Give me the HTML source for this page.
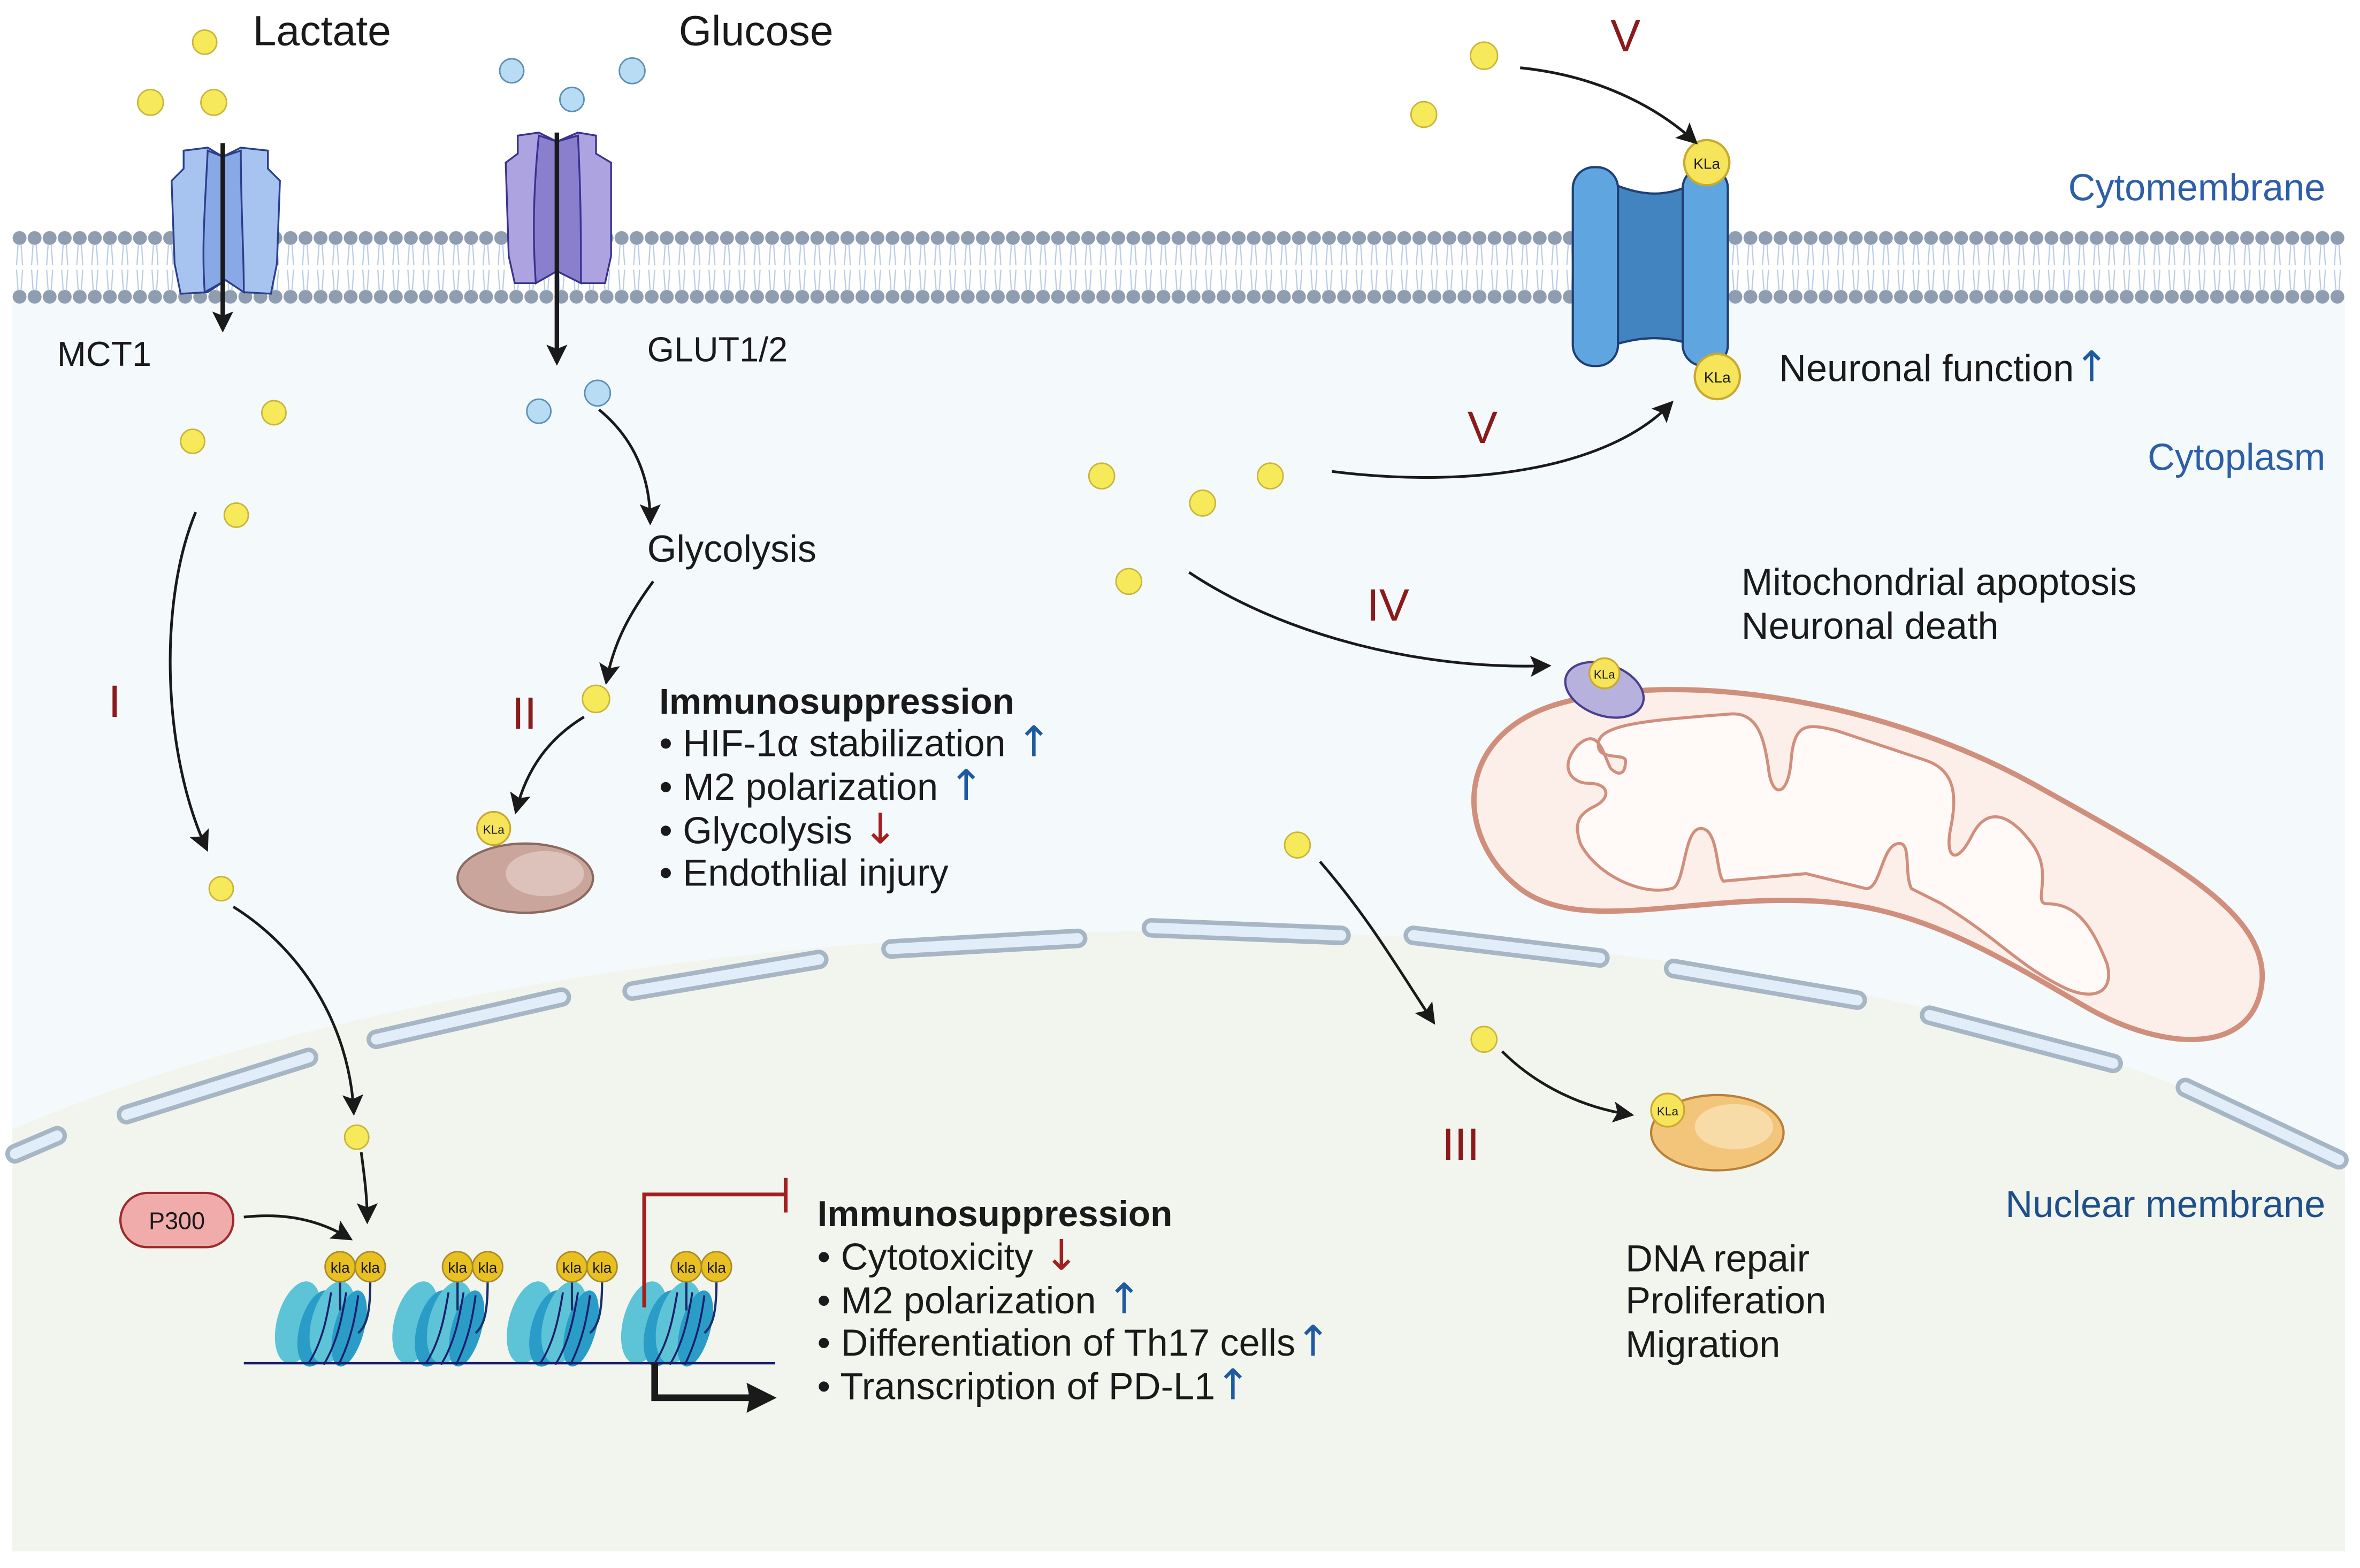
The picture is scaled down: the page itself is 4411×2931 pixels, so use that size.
<!DOCTYPE html>
<html><head><meta charset="utf-8"><style>
html,body{margin:0;padding:0;background:#fff}
svg{display:block}
text{font-family:"Liberation Sans","DejaVu Sans",sans-serif;fill:#1a1a1a}
.ar{font-family:"DejaVu Sans",sans-serif;font-size:28px}
</style></head><body>
<svg width="4411" height="2931" viewBox="0 0 1568 1041" preserveAspectRatio="none" xmlns="http://www.w3.org/2000/svg">
<defs>
<pattern id="mem" x="8" y="150" width="10" height="54" patternUnits="userSpaceOnUse">
<ellipse cx="5" cy="8" rx="4.6" ry="4.6" fill="#8e9db0"/>
<ellipse cx="5" cy="47" rx="4.6" ry="4.6" fill="#8e9db0"/>
<path d="M4,12 L3,26 M6,12 L7,26 M3,29 L4,43 M7,29 L6,43" stroke="#b9cbe6" stroke-width="0.8" fill="none"/>
</pattern>
<marker id="ah" viewBox="0 0 10 10" refX="8" refY="5" markerWidth="14" markerHeight="14" markerUnits="userSpaceOnUse" orient="auto"><path d="M0,0 L10,5 L0,10 L2,5 z" fill="#1a1a1a"/></marker>
<marker id="ahb" viewBox="0 0 10 10" refX="8" refY="5" markerWidth="20" markerHeight="20" markerUnits="userSpaceOnUse" orient="auto"><path d="M0,0 L10,5 L0,10 L1,5 z" fill="#1a1a1a"/></marker>
</defs>

<rect x="8" y="200" width="1550" height="830" fill="#f4f9fc"/>
<path d="M8,750 C400,580 1200,560 1558,775 L1558,1030 L8,1030 Z" fill="#f2f5ee"/>
<rect x="8" y="150" width="1550" height="54" fill="url(#mem)"/>

<g stroke-linecap="round" fill="none">
<g stroke="#a7b6c4" stroke-width="13">
<path d="M10,766 L38,754"/><path d="M84,740 L205,702"/><path d="M250,690 L373,662"/><path d="M420,658 L544,637"/><path d="M592,630 L716,623"/><path d="M765,616 L891,621"/><path d="M939,621 L1063,636"/><path d="M1112,643 L1234,664"/><path d="M1282,674 L1404,706"/><path d="M1452,722 L1554,770"/>
</g>
<g stroke="#e1edf8" stroke-width="7">
<path d="M10,766 L38,754"/><path d="M84,740 L205,702"/><path d="M250,690 L373,662"/><path d="M420,658 L544,637"/><path d="M592,630 L716,623"/><path d="M765,616 L891,621"/><path d="M939,621 L1063,636"/><path d="M1112,643 L1234,664"/><path d="M1282,674 L1404,706"/><path d="M1452,722 L1554,770"/>
</g>
</g>

<!-- mitochondrion -->
<path d="M1040,466 C1120,445 1250,465 1350,520 C1440,570 1505,605 1503,650 C1500,700 1440,700 1385,668 C1320,630 1270,600 1200,598 C1120,595 1050,620 1010,590 C965,555 965,485 1040,466 Z" fill="#fcefe9" stroke="#d08f7c" stroke-width="3.5"/>
<path d="M1062,495 C1060,480 1100,478 1150,474 C1168,473 1172,490 1175,510 C1177,530 1188,530 1190,505 C1192,480 1200,480 1220,485 L1280,505 C1300,512 1300,530 1296,550 C1292,570 1300,575 1310,555 C1320,535 1335,540 1350,560 C1365,580 1350,600 1360,600 C1380,600 1390,615 1400,640 C1405,660 1390,665 1370,655 C1340,640 1330,625 1290,600 L1270,590 C1265,580 1270,560 1262,560 C1250,560 1250,590 1240,590 L1200,580 L1145,585 C1140,580 1142,550 1130,550 C1118,550 1120,590 1110,590 C1090,595 1060,580 1050,560 C1045,545 1050,540 1060,535 C1070,530 1070,520 1055,520 C1045,520 1035,510 1048,495 C1062,482 1065,500 1070,510 C1075,515 1080,515 1080,505 C1080,500 1062,505 1062,495 Z" fill="#fffaf8" stroke="#d08f7c" stroke-width="2"/>
<ellipse cx="1066" cy="458" rx="27" ry="17" transform="rotate(20 1066 458)" fill="#b7b2dd" stroke="#4a3f90" stroke-width="1.5"/>
<circle cx="1066" cy="447" r="10" fill="#f6e55a" stroke="#c9a92e" stroke-width="1.2"/>
<text x="1066" y="450.5" font-size="8" text-anchor="middle">KLa</text>

<!-- MCT1 -->
<g stroke="#2c3f8a" stroke-width="1.2">
<path d="M122,100 L138,98 L148,104 L160,98 L178,100 L178,112 L186,120 L184,175 L180,195 L162,194 L150,186 L138,194 L120,195 L116,175 L114,120 L122,112 Z" fill="#a7c4f0"/>
<path d="M138,100 C136,140 134,165 136,194 L150,186 L162,194 C162,165 160,140 160,100 L148,104 Z" fill="#89a9e6"/>
</g>
<!-- GLUT -->
<g stroke="#3a3290" stroke-width="1.2">
<path d="M344,90 L358,88 L370,94 L384,88 L396,90 L396,102 L406,108 L406,170 L402,188 L386,188 L370,180 L356,188 L342,188 L338,170 L336,108 L344,102 Z" fill="#ada3e0"/>
<path d="M358,90 C354,130 354,160 356,188 L370,180 L386,188 C386,160 386,130 384,90 L370,94 Z" fill="#8a7fcc"/>
</g>
<line x1="148" y1="95" x2="148" y2="218" stroke="#1a1a1a" stroke-width="3" marker-end="url(#ah)"/>
<line x1="370" y1="88" x2="370" y2="240" stroke="#1a1a1a" stroke-width="3" marker-end="url(#ah)"/>

<!-- KLa channel -->
<g stroke="#1f3f75" stroke-width="1.5">
<path d="M1063,118 C1090,132 1110,132 1132,118 L1132,232 C1110,222 1090,222 1063,232 Z" fill="#4284c0"/>
<rect x="1045" y="111" width="30" height="132" rx="14" fill="#5fa6e0"/>
<rect x="1118" y="111" width="30" height="132" rx="14" fill="#5fa6e0"/>
</g>
<circle cx="1134" cy="108" r="15" fill="#f6e55a" stroke="#c9a92e" stroke-width="1.5"/>
<text x="1134" y="112" font-size="10" text-anchor="middle">KLa</text>
<circle cx="1141" cy="250" r="15" fill="#f6e55a" stroke="#c9a92e" stroke-width="1.5"/>
<text x="1141" y="254" font-size="10" text-anchor="middle">KLa</text>

<g fill="#f7ea5a" stroke="#c9b53a" stroke-width="1">
<circle cx="136" cy="28" r="8"/><circle cx="100" cy="68" r="8.5"/><circle cx="142" cy="68" r="8.5"/>
<circle cx="182" cy="274" r="8"/><circle cx="128" cy="293" r="8"/><circle cx="157" cy="342" r="8"/>
<circle cx="396" cy="464" r="9"/><circle cx="147" cy="590" r="8"/><circle cx="237" cy="755" r="8"/>
<circle cx="986" cy="37" r="9"/><circle cx="946" cy="76" r="8.5"/>
<circle cx="732" cy="316" r="8.5"/><circle cx="799" cy="334" r="8.5"/><circle cx="844" cy="316" r="8.5"/>
<circle cx="750" cy="386" r="8.5"/><circle cx="862" cy="561" r="8.5"/><circle cx="986" cy="690" r="8.5"/>
</g>
<g fill="#b7dcf3" stroke="#5d8fb5" stroke-width="1">
<circle cx="340" cy="47" r="8"/><circle cx="380" cy="66" r="8"/><circle cx="420" cy="47" r="8.5"/>
<circle cx="358" cy="273" r="8"/><circle cx="397" cy="261" r="8.5"/>
</g>

<ellipse cx="349" cy="583" rx="45" ry="23" fill="#c9a59b" stroke="#8a6a60" stroke-width="1.5"/>
<ellipse cx="362" cy="580" rx="26" ry="15" fill="#dcc2bb"/>
<circle cx="328" cy="550" r="11" fill="#f6e55a" stroke="#c9a92e" stroke-width="1.2"/>
<text x="328" y="553.5" font-size="8" text-anchor="middle">KLa</text>

<ellipse cx="1141" cy="752" rx="44" ry="25" fill="#f3c57a" stroke="#b9803a" stroke-width="1.5"/>
<ellipse cx="1152" cy="748" rx="26" ry="15" fill="#f8dca8"/>
<circle cx="1108" cy="737" r="11" fill="#f6e55a" stroke="#c9a92e" stroke-width="1.2"/>
<text x="1108" y="740.5" font-size="8" text-anchor="middle">KLa</text>

<rect x="80" y="792" width="75" height="36" rx="18" fill="#f0abab" stroke="#a02a2a" stroke-width="1.5"/>
<text x="117.5" y="816" font-size="16" text-anchor="middle">P300</text>

<g>
<g id="nuc">
<ellipse cx="198" cy="878" rx="14" ry="28" transform="rotate(15 198 878)" fill="#5cc4d6"/>
<ellipse cx="211" cy="882" rx="12" ry="26" transform="rotate(15 211 882)" fill="#2a9cc8"/>
<ellipse cx="221" cy="878" rx="14" ry="28" transform="rotate(15 221 878)" fill="#5cc4d6"/>
<ellipse cx="232" cy="882" rx="10" ry="26" transform="rotate(15 232 882)" fill="#2a9cc8"/>
<path d="M205,905 C215,890 218,870 220,858 M215,906 C225,890 228,870 230,858 M225,906 C233,890 236,875 238,860" stroke="#1a1f6b" stroke-width="1.3" fill="none"/>
<path d="M226,851 L226,870 M246,851 C246,870 244,880 238,885" stroke="#1a2e6b" stroke-width="1.5" fill="none"/>
<circle cx="226" cy="841" r="10" fill="#e8c021" stroke="#a88a2a" stroke-width="1"/>
<circle cx="246" cy="841" r="10" fill="#e8c021" stroke="#a88a2a" stroke-width="1"/>
<text x="226" y="845" font-size="10" text-anchor="middle">kla</text>
<text x="246" y="845" font-size="10" text-anchor="middle">kla</text>
</g>
<use href="#nuc" x="78"/><use href="#nuc" x="154"/><use href="#nuc" x="230"/>
</g>
<line x1="162" y1="905" x2="515" y2="905" stroke="#1a1f6b" stroke-width="1.6"/>

<path d="M428,868 L428,793 L522,793" stroke="#a32020" stroke-width="2.5" fill="none"/>
<line x1="522" y1="782" x2="522" y2="805" stroke="#a32020" stroke-width="2.5"/>
<path d="M435,905 L435,928 L512,928" stroke="#1a1a1a" stroke-width="4.5" fill="none" marker-end="url(#ahb)"/>

<g stroke="#1a1a1a" fill="none" stroke-width="1.8" marker-end="url(#ah)">
<path d="M398,272 C420,290 432,315 432,346"/>
<path d="M434,386 C420,405 408,425 403,452"/>
<path d="M388,476 C365,490 350,510 343,538"/>
<path d="M130,340 C105,400 108,500 137,563"/>
<path d="M155,602 C200,630 232,680 235,738"/>
<path d="M240,765 C242,780 244,795 244,810"/>
<path d="M162,808 C190,805 212,810 232,822"/>
<path d="M1010,45 C1060,50 1100,70 1126,94"/>
<path d="M885,313 C980,325 1070,310 1110,268"/>
<path d="M790,380 C850,420 940,445 1028,442"/>
<path d="M877,572 C910,610 930,645 952,678"/>
<path d="M998,698 C1020,720 1050,735 1083,740"/>
</g>

<text x="168" y="30" font-size="28">Lactate</text>
<text x="451" y="30" font-size="28">Glucose</text>
<text x="38" y="243" font-size="23">MCT1</text>
<text x="430" y="240" font-size="23">GLUT1/2</text>
<text x="430" y="373" font-size="25">Glycolysis</text>
<g font-size="30">
<text x="72" y="476" style="fill:#8b1a1a">I</text>
<text x="340" y="484" style="fill:#8b1a1a">II</text>
<text x="1070" y="34" style="fill:#8b1a1a">V</text>
<text x="975" y="294" style="fill:#8b1a1a">V</text>
<text x="908" y="412" style="fill:#8b1a1a">IV</text>
<text x="958" y="770" style="fill:#8b1a1a">III</text>
</g>
<g font-size="25">
<text x="438" y="474" font-weight="bold" font-size="24">Immunosuppression</text>
<text x="438" y="502">• HIF-1α stabilization <tspan class="ar" style="fill:#1e5aa0">↑</tspan></text>
<text x="438" y="531">• M2 polarization <tspan class="ar" style="fill:#1e5aa0">↑</tspan></text>
<text x="438" y="560">• Glycolysis <tspan class="ar" style="fill:#a32020">↓</tspan></text>
<text x="438" y="588">• Endothlial injury</text>
<text x="543" y="814" font-weight="bold" font-size="24">Immunosuppression</text>
<text x="543" y="843">• Cytotoxicity <tspan class="ar" style="fill:#a32020">↓</tspan></text>
<text x="543" y="872">• M2 polarization <tspan class="ar" style="fill:#1e5aa0">↑</tspan></text>
<text x="543" y="900">• Differentiation of Th17 cells<tspan class="ar" style="fill:#1e5aa0">↑</tspan></text>
<text x="543" y="929">• Transcription of PD-L1<tspan class="ar" style="fill:#1e5aa0">↑</tspan></text>
<text x="1182" y="253">Neuronal function<tspan class="ar" style="fill:#1e5aa0">↑</tspan></text>
<text x="1157" y="395">Mitochondrial apoptosis</text>
<text x="1157" y="424">Neuronal death</text>
<text x="1080" y="844">DNA repair</text>
<text x="1080" y="872">Proliferation</text>
<text x="1080" y="901">Migration</text>
<text x="1545" y="133" text-anchor="end" style="fill:#2d5fa8">Cytomembrane</text>
<text x="1545" y="312" text-anchor="end" style="fill:#2d5fa8">Cytoplasm</text>
<text x="1545" y="808" text-anchor="end" style="fill:#1f4f8a">Nuclear membrane</text>
</g>
</svg>
</body></html>
